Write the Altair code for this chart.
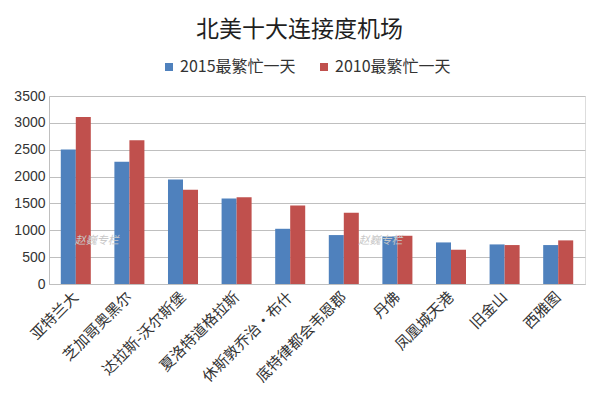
import altair as alt
import pandas as pd

cities = ["亚特兰大", "芝加哥奥黑尔", "达拉斯-沃尔斯堡", "夏洛特道格拉斯", "休斯敦乔治·布什",
          "底特律都会韦恩郡", "丹佛", "凤凰城天港", "旧金山", "西雅图"]
v2015 = [2503, 2274, 1945, 1592, 1028, 911, 886, 774, 737, 725]
v2010 = [3110, 2676, 1753, 1617, 1462, 1326, 898, 638, 725, 812]
series = ["2015最繁忙一天", "2010最繁忙一天"]
colors = ["#4F81BD", "#C0504D"]
yticks = [0, 500, 1000, 1500, 2000, 2500, 3000, 3500]

wm_city = ["亚特兰大", "丹佛"]
wm_val = [800, 800]
wm_dx = [21, -17]
wm_text = ["赵巍专栏", "赵巍专栏"]

rows = []
for c, a, b in zip(cities, v2015, v2010):
    rows.append({"city": c, "series": series[0], "value": a})
    rows.append({"city": c, "series": series[1], "value": b})
df = pd.DataFrame(rows)

wm = pd.DataFrame({"city": wm_city, "value": wm_val, "t": wm_text, "dx": wm_dx})

xscale = alt.Scale(domain=cities, paddingInner=0.44, paddingOuter=0.22)
yscale = alt.Scale(domain=[0, 3500])

xaxis = alt.Axis(title=None, labelAngle=-45, labelAlign="right", labelBaseline="middle",
                 labelFont="Noto Sans CJK SC", labelFontSize=15, labelColor="#333333",
                 labelPadding=10, ticks=False, domainColor="#BFBFBF", labelLimit=300)
yaxis = alt.Axis(title=None, values=yticks,
                 format="d", labelOverlap=False,
                 labelFont="Liberation Sans", labelFontSize=14, labelColor="#333333",
                 labelPadding=4, ticks=False, domain=True, domainColor="#BFBFBF",
                 gridColor="#BFBFBF", gridWidth=1)

bars = alt.Chart(df).mark_bar().encode(
    x=alt.X("city:N", sort=cities, scale=xscale, axis=xaxis),
    xOffset=alt.XOffset("series:N", sort=series, scale=alt.Scale(domain=series)),
    y=alt.Y("value:Q", scale=yscale, axis=yaxis),
    color=alt.Color("series:N", sort=series,
                    scale=alt.Scale(domain=series, range=colors),
                    legend=alt.Legend(title=None, orient="none", direction="horizontal",
                                      legendX=112, legendY=-37, symbolType="square",
                                      symbolSize=64, symbolStrokeWidth=0,
                                      labelFont="Noto Sans CJK SC", labelFontSize=16,
                                      labelColor="#333333", columnPadding=20,
                                      labelLimit=300, labelOffset=3)),
)

marks = alt.Chart(wm).encode(
    x=alt.X("city:N", sort=cities, scale=xscale, axis=xaxis),
    y=alt.Y("value:Q", scale=yscale, axis=yaxis),
    text="t:N",
)
marks1 = marks.transform_filter(alt.datum.dx > 0).mark_text(
    font="Noto Sans CJK SC", fontSize=11, fontStyle="italic", color="#C8C8C8", dx=21)
marks2 = marks.transform_filter(alt.datum.dx < 0).mark_text(
    font="Noto Sans CJK SC", fontSize=11, fontStyle="italic", color="#C8C8C8", dx=-17)

chart = alt.layer(bars, marks1, marks2).properties(
    width=536, height=188,
    title=alt.TitleParams("北美十大连接度机场", anchor="middle", frame="bounds",
                          font="Noto Sans CJK SC", fontSize=23, fontWeight="normal",
                          color="#1F1F1F", offset=17),
    autosize=alt.AutoSizeParams(type="none"),
    padding={"left": 41, "top": 88, "right": 7, "bottom": 119},
).configure_view(stroke=None).configure(background="white")

chart.save("out.html", embed_options={"renderer": "svg", "actions": False})
